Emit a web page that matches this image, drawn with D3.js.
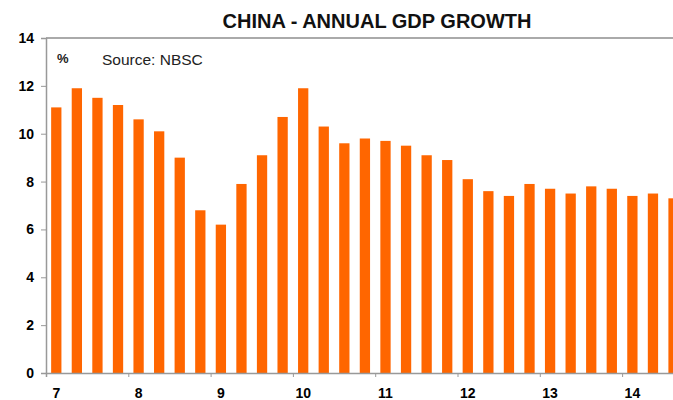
<!DOCTYPE html>
<html>
<head>
<meta charset="utf-8">
<script src="https://cdn.jsdelivr.net/npm/d3@7"></script>
<style>
  body { margin: 0; background: #fff; }
  svg { display: block; font-family: "Liberation Sans", Arial, sans-serif; }
</style>
</head>
<body>
<div id="container"></div>
<script>
// Data
const years = [2007, 2008, 2009, 2010, 2011, 2012, 2013, 2014];
const yearLabels = ['7', '8', '9', '10', '11', '12', '13', '14'];
const quarters = [
  '2007Q1', '2007Q2', '2007Q3', '2007Q4',
  '2008Q1', '2008Q2', '2008Q3', '2008Q4',
  '2009Q1', '2009Q2', '2009Q3', '2009Q4',
  '2010Q1', '2010Q2', '2010Q3', '2010Q4',
  '2011Q1', '2011Q2', '2011Q3', '2011Q4',
  '2012Q1', '2012Q2', '2012Q3', '2012Q4',
  '2013Q1', '2013Q2', '2013Q3', '2013Q4',
  '2014Q1', '2014Q2', '2014Q3'
];
const gdpGrowth = [
  11.1, 11.9, 11.5, 11.2,
  10.6, 10.1, 9.0, 6.8,
  6.2, 7.9, 9.1, 10.7,
  11.9, 10.3, 9.6, 9.8,
  9.7, 9.5, 9.1, 8.9,
  8.1, 7.6, 7.4, 7.9,
  7.7, 7.5, 7.8, 7.7,
  7.4, 7.5, 7.3
];
const yTicks = [0, 2, 4, 6, 8, 10, 12, 14];

const width = 673;
const height = 400;
const plotLeft = 46;
const plotTop = 38;
const plotBottom = 373;

const data = quarters.map((q, i) => ({
  year: +q.slice(0, 4),
  q: +q.slice(5),
  value: gdpGrowth[i]
}));

const svg = d3.select('#container').append('svg')
  .attr('width', width)
  .attr('height', height);

// scales
const xScale = d3.scaleLinear()
  .domain([2007, 2015])
  .range([plotLeft, plotLeft + 8 * 82.3]);

const yScale = d3.scaleLinear()
  .domain([0, 14])
  .range([plotBottom, plotTop]);

const barWidth = (xScale(2008) - xScale(2007)) / 4 * 0.5;

// title
svg.append('text')
  .attr('x', 377)
  .attr('y', 27.5)
  .attr('text-anchor', 'middle')
  .attr('font-size', 20)
  .attr('font-weight', 'bold')
  .attr('fill', '#111')
  .text('CHINA - ANNUAL GDP GROWTH');

// bars
svg.append('g').classed('bars', true)
  .selectAll('rect').data(data).enter().append('rect')
  .attr('x', d => xScale(d.year + (d.q - 0.5) / 4) - barWidth / 2)
  .attr('y', d => yScale(d.value))
  .attr('width', barWidth)
  .attr('height', d => yScale(0) - yScale(d.value))
  .attr('fill', '#ff6600');

// top border
svg.append('line')
  .attr('x1', plotLeft).attr('x2', width)
  .attr('y1', yScale(14)).attr('y2', yScale(14))
  .attr('stroke', '#aaa')
  .attr('stroke-width', 2);

// y axis
const yAxis = d3.axisLeft(yScale)
  .tickValues(yTicks)
  .tickSize(5)
  .tickPadding(7)
  .tickFormat(d3.format('d'));
const gy = svg.append('g')
  .attr('transform', `translate(${plotLeft}, 0)`)
  .call(yAxis);
gy.select('.domain').attr('stroke', '#999').attr('stroke-width', 1.5);
gy.selectAll('.tick line').attr('stroke', '#999');
gy.selectAll('.tick text')
  .attr('font-size', 14)
  .attr('font-weight', 'bold')
  .attr('font-family', '"Liberation Sans", Arial, sans-serif')
  .attr('fill', '#000');

// x axis (year ticks at boundaries)
const xAxis = d3.axisBottom(xScale)
  .tickValues(years)
  .tickSize(4)
  .tickFormat('');
const gx = svg.append('g')
  .attr('transform', `translate(0, ${plotBottom})`)
  .call(xAxis);
gx.select('.domain').attr('stroke', '#999').attr('stroke-width', 1.5);
gx.selectAll('.tick line').attr('stroke', '#999');

// year labels under first quarter bar
svg.append('g').selectAll('text').data(years).enter().append('text')
  .attr('x', d => xScale(d + 0.125))
  .attr('y', 398)
  .attr('text-anchor', 'middle')
  .attr('font-size', 14)
  .attr('font-weight', 'bold')
  .attr('fill', '#000')
  .text((d, i) => yearLabels[i]);

// annotations
svg.append('text')
  .attr('x', 57)
  .attr('y', 63)
  .attr('font-size', 13)
  .attr('font-weight', 'bold')
  .attr('fill', '#222')
  .text('%');

svg.append('text')
  .attr('x', 102)
  .attr('y', 65)
  .attr('font-size', 15.5)
  .attr('fill', '#222')
  .text('Source: NBSC');
</script>
</body>
</html>
